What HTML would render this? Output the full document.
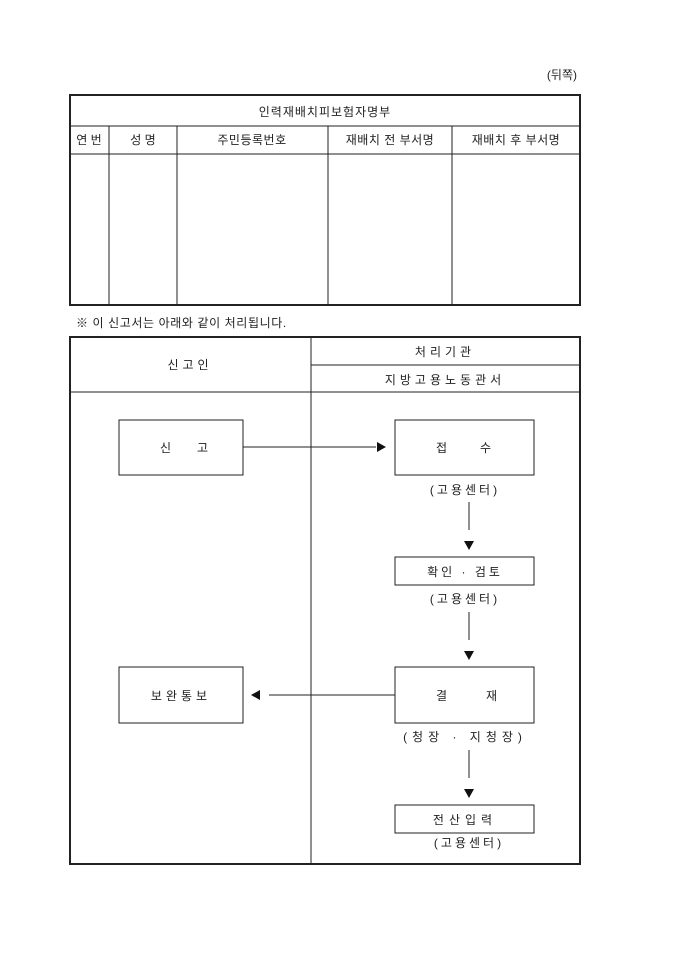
<!DOCTYPE html>
<html><head><meta charset="utf-8"><style>
html,body{margin:0;padding:0;background:#fff;width:680px;height:962px;overflow:hidden}
svg{display:block}
text{font-family:"Liberation Sans","Noto Sans CJK KR","NanumGothic",sans-serif;fill:#222;font-size:12px}
</style></head><body>
<svg width="680" height="962" viewBox="0 0 680 962">
<g stroke="#222" fill="none">
<rect x="70" y="95" width="510" height="210" stroke-width="2"/>
<line x1="70" y1="126" x2="580" y2="126" stroke-width="1"/>
<line x1="70" y1="154" x2="580" y2="154" stroke-width="1"/>
<line x1="109" y1="126" x2="109" y2="305"/>
<line x1="177" y1="126" x2="177" y2="305"/>
<line x1="328" y1="126" x2="328" y2="305"/>
<line x1="452" y1="126" x2="452" y2="305"/>

<rect x="70" y="337" width="510" height="527" stroke-width="2"/>
<line x1="311" y1="337" x2="311" y2="864"/>
<line x1="311" y1="365" x2="580" y2="365"/>
<line x1="70" y1="392" x2="580" y2="392"/>

<rect x="119" y="420" width="124" height="55"/>
<rect x="395" y="420" width="139" height="55"/>
<rect x="395" y="557" width="139" height="28"/>
<rect x="395" y="667" width="139" height="56"/>
<rect x="119" y="667" width="124" height="56"/>
<rect x="395" y="805" width="139" height="28"/>

<line x1="243" y1="447" x2="376" y2="447"/>
<line x1="269" y1="695" x2="395" y2="695"/>
<line x1="469" y1="502" x2="469" y2="530"/>
<line x1="469" y1="612" x2="469" y2="640"/>
<line x1="469" y1="750" x2="469" y2="778"/>
</g>
<g fill="#111">
<polygon points="377,442 386,447 377,452"/>
<polygon points="260,690 251,695 260,700"/>
<polygon points="464,541 474,541 469,550"/>
<polygon points="464,651 474,651 469,660"/>
<polygon points="464,789 474,789 469,798"/>
</g>
<text x="577" y="79" text-anchor="end">(뒤쪽)</text>
<text x="325" y="116" text-anchor="middle" font-size="15.5" letter-spacing="1">인력재배치피보험자명부</text>
<text x="89" y="144" text-anchor="middle">연 번</text>
<text x="143" y="144" text-anchor="middle">성 명</text>
<text x="252" y="144" text-anchor="middle" letter-spacing="0.5">주민등록번호</text>
<text x="390" y="144" text-anchor="middle" letter-spacing="0.5">재배치 전 부서명</text>
<text x="516" y="144" text-anchor="middle" letter-spacing="0.5">재배치 후 부서명</text>
<text x="76" y="327" letter-spacing="0.6">※ 이 신고서는 아래와 같이 처리됩니다.</text>
<text x="190" y="369" text-anchor="middle" letter-spacing="4">신고인</text>
<text x="445" y="356" text-anchor="middle" letter-spacing="4">처리기관</text>
<text x="445" y="384" text-anchor="middle" letter-spacing="4">지방고용노동관서</text>
<text x="160" y="452">신</text><text x="197" y="452">고</text>
<text x="436" y="452">접</text><text x="480" y="452">수</text>
<text x="465" y="494" text-anchor="middle" letter-spacing="3">(고용센터)</text>
<text x="465" y="576" text-anchor="middle" letter-spacing="3">확인 · 검토</text>
<text x="465" y="603" text-anchor="middle" letter-spacing="3">(고용센터)</text>
<text x="436" y="700">결</text><text x="486" y="700">재</text>
<text x="181" y="700" text-anchor="middle" letter-spacing="4">보완통보</text>
<text x="465" y="741" text-anchor="middle" letter-spacing="5">(청장 · 지청장)</text>
<text x="465" y="824" text-anchor="middle" letter-spacing="5">전산입력</text>
<text x="469" y="847" text-anchor="middle" letter-spacing="3">(고용센터)</text>
</svg>
</body></html>
